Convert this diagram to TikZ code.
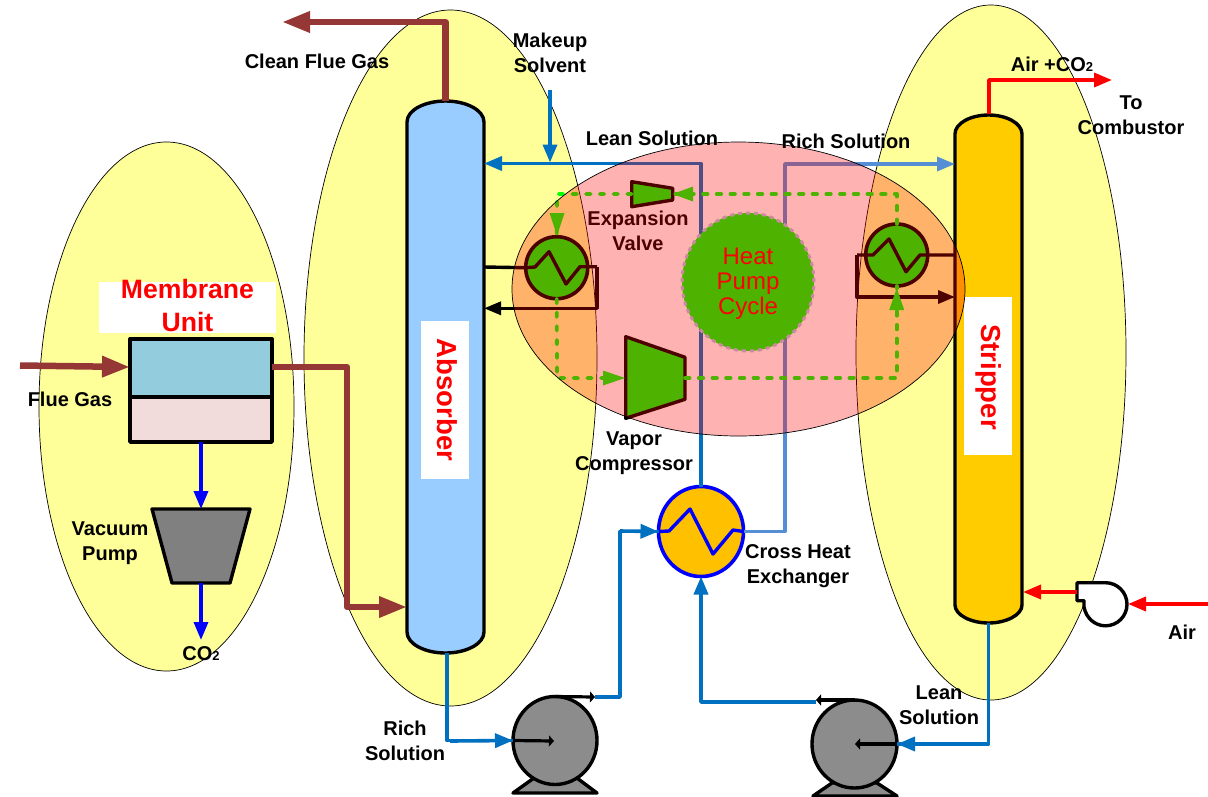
\documentclass[tikz,border=0pt]{standalone}
\usepackage{fontspec}
\setmainfont{Liberation Sans}
\usetikzlibrary{arrows.meta,shapes.geometric,calc}
\definecolor{zoneyellow}{HTML}{FFFF99}
\definecolor{flue}{HTML}{953735}
\definecolor{lean}{HTML}{0070C0}
\definecolor{rich}{HTML}{558ED5}
\definecolor{colblue}{HTML}{99CCFF}
\definecolor{colgold}{HTML}{FFCC00}
\definecolor{pumpgray}{HTML}{8C8C8C}
\definecolor{hpdots}{HTML}{B3C6E4}
\tikzset{
  x=1pt,y=-1pt,
  zone/.style={ellipse,draw=black,line width=.7pt,fill=zoneyellow,inner sep=0,outer sep=0},
  lbl/.style={font=\fontsize{20}{24.8}\selectfont\bfseries,align=center,inner sep=0,text=black},
  redlbl/.style={font=\fontsize{27.5}{33}\selectfont\bfseries,align=center,inner sep=0,text=red},
  equip/.style={draw=black,line width=3.4pt,line join=round},
  hxcirc/.style={ellipse,inner sep=0,outer sep=0,line width=3.6pt},
  flueline/.style={draw=flue,line width=6.5pt,line join=round,line cap=round},
  flueend/.style={flueline,line cap=butt,-{Triangle[length=28pt,width=20pt]}},
  pipe/.style={line width=3.6pt,line join=round,-{Triangle[length=18pt,width=14pt]}},
  plainpipe/.style={line width=3.6pt,line join=round},
  hpline/.style={draw=black,line width=3.4pt,line join=round},
  hparrow/.style={hpline,-{Triangle[length=17pt,width=13pt]}},
  gasline/.style={draw=green,line width=3.8pt,line cap=round,line join=round,dash pattern=on 4.5pt off 9.2pt},
  gashead/.style={fill=green,draw=none},
  smalltip/.style={draw=black,line width=3.2pt,-{Triangle[length=5pt,width=11pt]}},
}
\begin{document}
\begin{tikzpicture}
\useasboundingbox (0,0) rectangle (1208,796);
% ---- process zones
\node[zone,minimum width=255pt,minimum height=529pt] (zoneM) at (166.5,406.5) {};
\node[zone,minimum width=293pt,minimum height=696pt] (zoneA) at (450.5,358) {};
\node[zone,minimum width=270pt,minimum height=695pt] (zoneS) at (991,352.5) {};

% ---- columns
\node[inner sep=0,outer sep=0,minimum width=77pt,minimum height=552pt] (absorber) at (445.5,377) {};
\draw[equip,fill=colblue] (407,122) .. controls (407,110) and (425,101) .. (445.5,101)
  .. controls (466,101) and (484,110) .. (484,122) -- (484,632)
  .. controls (484,644) and (466,653) .. (445.5,653)
  .. controls (425,653) and (407,644) .. (407,632) -- cycle;
\node[inner sep=0,outer sep=0,minimum width=67pt,minimum height=508pt] (stripper) at (988.5,369) {};
\draw[equip,fill=colgold] (955,134) .. controls (955,123) and (971,115) .. (988.5,115)
  .. controls (1006,115) and (1022,123) .. (1022,134) -- (1022,605)
  .. controls (1022,615) and (1006,623) .. (988.5,623)
  .. controls (971,623) and (955,615) .. (955,605) -- cycle;
\node[fill=white,inner sep=0,minimum width=48pt,minimum height=158pt] (absbox) at (445,400) {};
\node[redlbl,rotate=-90] (abslabel) at (447,400) {Absorber};
\node[fill=white,inner sep=0,minimum width=48pt,minimum height=158pt] (stripbox) at (988,376) {};
\node[redlbl,rotate=-90] (striplabel) at (988.5,377) {Stripper};

% ---- membrane unit
\node[fill=white,inner sep=0,minimum width=177pt,minimum height=51pt] (membox) at (187.5,307) {};
\node[font=\fontsize{26.6}{33}\selectfont\bfseries,text=red,align=center,inner sep=0] (memlabel) at (187.5,305) {Membrane\\Unit};
\node[draw=none,minimum width=142pt,minimum height=58pt,inner sep=0,outer sep=0] (memtop) at (201,368) {};
\node[minimum width=142pt,minimum height=45pt,inner sep=0,outer sep=0] (membot) at (201,419.5) {};
\draw[equip,fill={rgb,255:red,147;green,205;blue,221}] (memtop.north west) rectangle (memtop.south east);
\draw[equip,fill={rgb,255:red,242;green,220;blue,219}] (memtop.south west) rectangle (membot.south east);

% ---- vacuum pump
\node[inner sep=0,outer sep=0,minimum width=98pt,minimum height=74pt] (vacpump) at (201,546) {};
\draw[equip,fill={rgb,255:red,128;green,128;blue,128}] (vacpump.north west) -- (vacpump.north east) -- (230,583) -- (172,583) -- cycle;
\coordinate (co2end) at (201,640);
\draw[pipe,blue] (membot.south) -- (vacpump.north);
\draw[pipe,blue] (vacpump.south) -- (co2end);

% ---- flue gas
\coordinate (fluestart) at (20,365.5);
\coordinate (memin) at (130,367);
\coordinate (memout) at (272,367);
\coordinate (absin) at (407,607);
\coordinate (absout) at (445.5,101);
\coordinate (cleanend) at (282,22);
\draw[flueend] (fluestart) -- (memin);
\draw[flueend] (memout) -- ++(75,0) |- (absin);
\draw[flueend] (absout) |- (cleanend);

% ---- solvent loop below the pink zone
\node[hxcirc,draw=blue,fill={rgb,255:red,255;green,192;blue,0},minimum width=85pt,minimum height=90pt] (hxc) at (701,531.5) {};
\draw[line width=3.4pt,draw=blue,line join=round] (hxc.west) -- (669,531) -- (690,509) -- (713,554) -- (733,530) -- (hxc.east);
\coordinate (ablean) at (484,163.5);
\coordinate (strich) at (955,164);
\coordinate (mkstart) at (550,90);
\coordinate (mkend) at (550,162.5);
\draw[pipe,lean] (hxc.north) |- (ablean);
\draw[pipe,rich] (hxc.east) -- ++(41.5,0) |- (strich);
\draw[pipe,lean] (mkstart) -- (mkend);

% ---- pumps
\node[inner sep=0,outer sep=0,minimum width=84pt,minimum height=88pt,ellipse] (pumpA) at (555,740.5) {};
\node[inner sep=0,outer sep=0,minimum width=85pt,minimum height=88pt,ellipse] (pumpB) at (854.5,744) {};
\draw[equip,fill=pumpgray] (534,778) -- (513,793) -- (597,793) -- (577,778) -- cycle;
\draw[equip,fill=pumpgray] (832,783) -- (813,796) -- (897,796) -- (877,783) -- cycle;
\draw[equip,fill=pumpgray] (pumpA) ellipse [x radius=42,y radius=44];
\draw[equip,fill=pumpgray] (pumpB) ellipse [x radius=42.5,y radius=44];
\coordinate (pAout) at (595,697);
\coordinate (pBout) at (816,702);
\coordinate (pAcentre) at (554,741);
\coordinate (pBcentre) at (855,744);
\draw[plainpipe,lean] (absorber.south) ++(1.5,0) |- (pumpA.west);
\draw[plainpipe,lean] (pAout) -- ++(25,0) |- (hxc.west);
\draw[pipe,lean] (620,531) -- (hxc.west);
\draw[pipe,lean] (pBout) -| (hxc.south);
\draw[plainpipe,lean] (stripper.south) |- (pumpB.east);
\draw[pipe,lean] (450,741) -- (pumpA.west);
\draw[pipe,lean] (960,744) -- (pumpB.east);
\draw[smalltip] (pumpA.west) -- (pAcentre);
\draw[smalltip] (pumpB.east) -- (pBcentre);
\draw[smalltip] (pumpA.north) -- (pAout);
\draw[smalltip] (pumpB.north) -- (816,700);

% ---- air
\node[inner sep=0,outer sep=0,minimum width=51pt,minimum height=44pt] (blower) at (1102,604.5) {};
\draw[equip,fill=white] (1077,582.7) -- (1105.5,582.7)
  .. controls (1117.5,582.7) and (1127,592.5) .. (1127,604.3)
  .. controls (1127,616) and (1117.5,625.8) .. (1105.5,625.8)
  .. controls (1095,625.8) and (1086,618) .. (1084,607)
  -- (1084,600.7) -- (1077,600.7) -- cycle;
\coordinate (airstart) at (1208,604);
\coordinate (blowin) at (1128,604);
\coordinate (blowout) at (1077,592);
\coordinate (stin) at (1023,592);
\coordinate (topgas) at (989,114);
\coordinate (topgasend) at (1112,80);
\draw[pipe,red] (airstart) -- (blowin);
\draw[pipe,red] (blowout) -- (stin);
\draw[pipe,red] (topgas) |- (topgasend);

% ---- heat pump cycle (lies under the translucent pink zone)
\node[hxcirc,draw=black,fill=green,minimum width=62pt,minimum height=62pt] (hxL) at (556.7,267.7) {};
\node[hxcirc,draw=black,fill=green,minimum width=62pt,minimum height=62pt] (hxR) at (896.7,255) {};
\draw[hpline] (hxL.west) -- (535,267) -- (549,251.7) -- (566,284) -- (580,266.7) -- (597,266.7);
\coordinate (abhpout) at (484,267);
\coordinate (abhpin) at (484,308.3);
\coordinate (sthpout) at (955,255);
\coordinate (sthpin) at (955,297);
\draw[hpline] (abhpout) -- (hxL.west);
\draw[hparrow] (597,266.7) -- (597,308.3) -- (abhpin);
\draw[hpline] (sthpout) -- (920,255) -- (906,271.7) -- (889,239) -- (873,255) -- (857,255);
\draw[hparrow] (857,255) -- (857,297) -- (sthpin);
\node[inner sep=0,outer sep=0,minimum width=41pt,minimum height=25pt] (valve) at (652.2,194) {};
\draw[hpline,fill=green] (631.7,181.7) -- (672.7,188.3) -- (672.7,200) -- (631.7,206.7) -- cycle;
\node[inner sep=0,outer sep=0,minimum width=59pt,minimum height=82pt] (comp) at (655.5,378) {};
\draw[hpline,fill=green] (625.7,336.7) -- (685,357.3) -- (685,399.3) -- (625.7,418.3) -- cycle;
\coordinate (gasTL) at (557,194);
\coordinate (gasBL) at (557,378);
\coordinate (gasTR) at (896.7,194);
\coordinate (gasBR) at (896.7,378);
\draw[gasline] (valve.west) -- (gasTL) -- (hxL.north);
\draw[gasline] (hxR.north) -- (gasTR) -- (valve.east);
\draw[gasline] (hxL.south) -- (gasBL) -- (comp.west);
\draw[gasline] (comp.east) -- (gasBR) -- (hxR.south);
\fill[gashead] (672.7,194) -- (693,186.5) -- (693,201.5) -- cycle;
\fill[gashead] (557,235.5) -- (549.5,213) -- (564.5,213) -- cycle;
\fill[gashead] (625,378) -- (603,370.5) -- (603,385.5) -- cycle;
\fill[gashead] (896.7,288) -- (889.2,310) -- (904.2,310) -- cycle;
\node[lbl] (explabel) at (638,230.5) {Expansion\\Valve};
\node[ellipse,inner sep=0,outer sep=0,minimum width=132pt,minimum height=138pt,fill=green,draw=hpdots,line width=3pt,dash pattern=on 4pt off 4pt] (hpc) at (748,282) {};
\node[font=\fontsize{24}{25}\selectfont,text=red,align=center,inner sep=0] (hpclabel) at (748,284) {Heat\\Pump\\Cycle};

% ---- translucent pink zone
\node[ellipse,inner sep=0,outer sep=0,minimum width=453pt,minimum height=294pt,fill=red,fill opacity=.3] (zoneH) at (738.5,289) {};
\draw[black,line width=.7pt] (zoneH) ellipse [x radius=226.5,y radius=147];

% ---- labels
\node[lbl] (tclean) at (317,61) {Clean Flue Gas};
\node[lbl] (tmake) at (550,52.5) {Makeup\\Solvent};
\node[lbl] (tlean) at (652,138) {Lean Solution};
\node[lbl] (trich) at (846,141) {Rich Solution};
\node[lbl] (tair) at (1052,64) {Air +CO{\fontsize{13}{13}\selectfont 2}};
\node[lbl] (tto) at (1131,115.5) {To\\Combustor};
\node[lbl] (tvapor) at (634,453) {Vapor\\Compressor};
\node[lbl] (tcross) at (798,566) {Cross Heat\\Exchanger};
\node[lbl] (trichb) at (405,741) {Rich\\Solution};
\node[lbl] (tleanb) at (939,705) {Lean\\Solution};
\node[lbl] (tairb) at (1182,632) {Air};
\node[lbl] (tflue) at (70,399) {Flue Gas};
\node[lbl] (tvac) at (110,543) {Vacuum\\Pump};
\node[lbl] (tco2) at (201,654) {CO{\fontsize{13}{13}\selectfont 2}};
\end{tikzpicture}
\end{document}
